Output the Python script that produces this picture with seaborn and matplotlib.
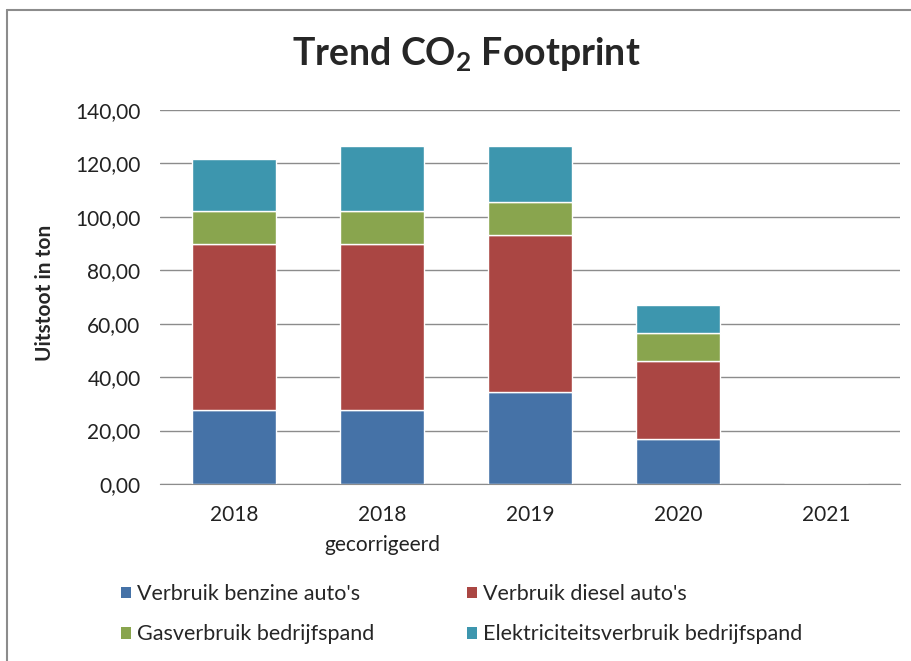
import numpy as np
import matplotlib.pyplot as plt
import seaborn as sns
from matplotlib.patches import Patch
from matplotlib.lines import Line2D
from matplotlib.ticker import FuncFormatter

# ---- data ----
categories = ["2018", "2018\ngecorrigeerd", "2019", "2020", "2021"]
benzine = [27.7, 27.7, 34.6, 16.8, 0.0]
diesel = [62.1, 62.1, 58.6, 29.2, 0.0]
gas = [12.5, 12.5, 12.4, 10.4, 0.0]
elektriciteit = [19.4, 24.2, 20.9, 10.6, 0.0]

series_names = ["Verbruik benzine auto's", "Verbruik diesel auto's",
                "Gasverbruik bedrijfspand", "Elektriciteitsverbruik bedrijfspand"]
series_values = [benzine, diesel, gas, elektriciteit]
colors = ["#4572A7", "#AA4643", "#89A54E", "#3D96AE"]

sns.set_style("white")
plt.rcParams['font.family'] = ['Lato', 'DejaVu Sans']
plt.rcParams['mathtext.fontset'] = 'custom'
plt.rcParams['mathtext.rm'] = 'Lato'
plt.rcParams['mathtext.bf'] = 'Lato:bold'

W, H = 911, 661
fig = plt.figure(figsize=(W / 100, H / 100), dpi=100)
ax = fig.add_axes([160 / W, 1 - 484 / H, 740 / W, 374 / H])

bottom = np.zeros(len(categories))
for name, vals, col in zip(series_names, series_values, colors):
    sns.barplot(x=categories, y=vals, bottom=bottom, color=col, saturation=1,
                width=0.57, edgecolor="white", linewidth=1, errorbar=None, ax=ax)
    bottom += np.array(vals)

ax.set_ylim(0, 140)
ax.set_xlim(-0.5, len(categories) - 0.5)
ax.set_yticks(np.arange(0, 141, 20))
ax.yaxis.set_major_formatter(FuncFormatter(lambda v, p: f"{v:.2f}".replace(".", ",")))
ax.yaxis.grid(True, color="#8c8c8c", lw=1)
ax.set_axisbelow(True)
for s in ["top", "right", "left"]:
    ax.spines[s].set_visible(False)
ax.spines["bottom"].set_color("#8c8c8c")
ax.spines["bottom"].set_zorder(5)
ax.tick_params(axis="y", length=0, pad=14, labelsize=15, labelcolor="#222222")
ax.tick_params(axis="x", length=0, pad=15, labelsize=15, labelcolor="#222222")
for lbl in ax.get_xticklabels():
    lbl.set_linespacing(1.65)
ax.set_xlabel("")
ax.set_ylabel("")

# title and axis label
fig.text(466 / W, 1 - 55 / H, r"Trend CO$_\mathbf{2}$ Footprint", ha="center", va="center",
         fontsize=27, fontweight="bold")
fig.text(45 / W, 1 - 293 / H, "Uitstoot in ton", rotation=90, ha="center", va="center",
         fontsize=15, fontweight="bold")

# legend (column-wise fill, so order to get rows benzine/diesel, gas/elektriciteit)
handles = [Patch(facecolor=c, edgecolor="none") for c in colors]
order = [0, 2, 1, 3]
fig.legend([handles[i] for i in order], [series_names[i] for i in order],
           ncol=2, loc="upper left", bbox_to_anchor=(121 / W, 1 - 584 / H),
           frameon=False, fontsize=15.5, handlelength=0.45, handleheight=0.45,
           handletextpad=0.3, columnspacing=4.3, labelspacing=0.95,
           borderpad=0, borderaxespad=0)

# chart border (left and top edges visible in the crop)
fig.add_artist(Line2D([7 / W, 7 / W], [0, 1 - 10 / H], transform=fig.transFigure,
                      color="#8c8c8c", lw=1.5))
fig.add_artist(Line2D([7 / W, 1], [1 - 10 / H, 1 - 10 / H], transform=fig.transFigure,
                      color="#8c8c8c", lw=1.5))

fig.savefig("out.png", dpi=100)
